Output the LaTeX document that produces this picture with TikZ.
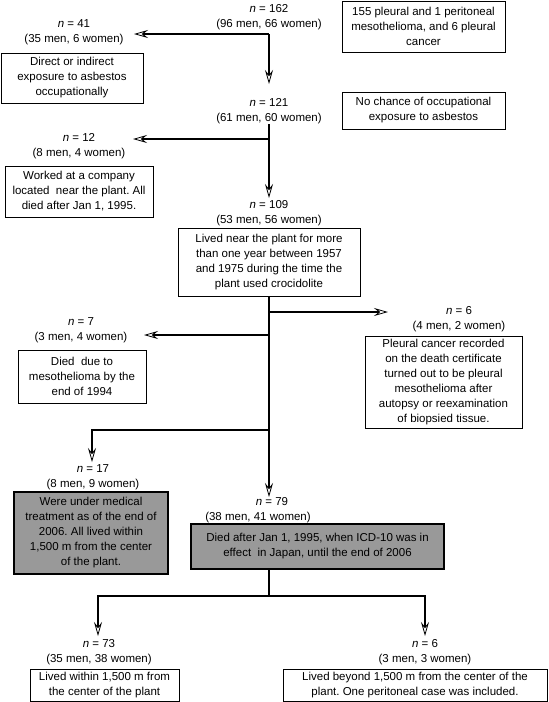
\documentclass[tikz,border=0pt]{standalone}
\usepackage{fontspec}
\setmainfont{Liberation Sans}
\usetikzlibrary{arrows.meta}
\definecolor{boxgray}{RGB}{153,153,153}
\frenchspacing
\begin{document}
\begin{tikzpicture}[x=1pt,y=-1pt,
  txt/.style={font=\fontsize{11.5}{15}\selectfont, align=center},
  lbl/.style={txt, inner sep=0pt},
  box/.style={txt, draw, line width=1pt, inner sep=0pt},
  gbox/.style={box, fill=boxgray, line width=2.2pt},
  ln/.style={line width=1.1pt},
  arr/.style={line width=1.1pt, -{Stealth[open, length=14pt, width=8pt, inset=5pt, line width=0.8pt]}}]
\useasboundingbox (0,0) rectangle (549,702);
% nodes
\node[lbl] (l162) at (269,17.5) {\textit{n} = 162\\(96 men, 66 women)};
\node[box, minimum width=163pt, minimum height=51pt] (A) at (423.5,26.5) {155 pleural and 1 peritoneal\\mesothelioma, and 6 pleural\\cancer};
\node[lbl] (l41) at (74,32) {\textit{n} = 41\\(35 men, 6 women)};
\node[box, minimum width=142pt, minimum height=50pt] (B) at (72,78) {Direct or indirect\\exposure to asbestos\\occupationally};
\node[lbl] (l121) at (269,111.5) {\textit{n} = 121\\(61 men, 60 women)};
\node[box, minimum width=163pt, minimum height=37pt] (C) at (423.5,110.5) {No chance of occupational\\exposure to asbestos};
\node[lbl] (l12) at (79,146.5) {\textit{n} = 12\\(8 men, 4 women)};
\node[box, minimum width=148pt, minimum height=51pt] (D) at (79,191.5) {Worked at a company\\located\ \ near the plant. All\\died after Jan 1, 1995.};
\node[lbl] (l109) at (269,213.5) {\textit{n} = 109\\(53 men, 56 women)};
\node[box, minimum width=182pt, minimum height=68pt] (E) at (269,262) {Lived near the plant for more\\than one year between 1957\\and 1975 during the time the\\plant used crocidolite};
\node[lbl] (l6) at (459,319.5) {\textit{n} = 6\\(4 men, 2 women)};
\node[box, minimum width=157pt, minimum height=92pt] (F) at (443.5,382) {Pleural cancer recorded\\on the death certificate\\turned out to be pleural\\mesothelioma after\\autopsy or reexamination\\of biopsied tissue.};
\node[lbl] (l7) at (81,330.5) {\textit{n} = 7\\(3 men, 4 women)};
\node[box, minimum width=128pt, minimum height=53pt] (G) at (82,376.5) {Died\ \ due to\\mesothelioma by the\\end of 1994};
\node[lbl] (l17) at (93,477.5) {\textit{n} = 17\\(8 men, 9 women)};
\node[gbox, minimum width=154pt, minimum height=82pt] (H) at (91,533) {Were under medical\\treatment as of the end of\\2006. All lived within\\1,500 m from the center\\of the plant.};
\node[lbl] (l79) at (258,510.5) {\hspace*{28pt}\textit{n} = 79\\(38 men, 41 women)};
\node[gbox, minimum width=253pt, minimum height=45pt] (I) at (317.5,546.5) {Died after Jan 1, 1995, when ICD-10 was in\\effect\ \ in Japan, until the end of 2006};
\node[lbl] (l73) at (99,652.5) {\textit{n} = 73\\(35 men, 38 women)};
\node[box, minimum width=149pt, minimum height=32pt] (J) at (104.5,685) {Lived within 1,500 m from\\the center of the plant};
\node[lbl] (l6b) at (425,652.5) {\textit{n} = 6\\(3 men, 3 women)};
\node[box, minimum width=264pt, minimum height=32pt] (K) at (415,685) {Lived beyond 1,500 m from the center of the\\plant. One peritoneal case was included.};
% coordinates
\coordinate (j1) at (269,34);
\coordinate (t121) at (269,84);
\coordinate (t41) at (134,34);
\coordinate (j2) at (269,139);
\coordinate (t12) at (133,139);
\coordinate (t109) at (269,198);
\coordinate (j3) at (269,312);
\coordinate (t6) at (388,312);
\coordinate (j4) at (269,335);
\coordinate (t7) at (144,335);
\coordinate (j5) at (269,430);
\coordinate (t17) at (92,462);
\coordinate (t79) at (269,497);
\coordinate (j6) at (269,596);
\coordinate (t73) at (98,636);
\coordinate (t6b) at (425,636);
% connectors
\draw[arr] (j1) -- (t121);
\draw[arr] (j1) -- (t41);
\draw[arr] (l121.south) -- (t109);
\draw[arr] (j2) -- (t12);
\draw[arr] (E.south) -- (t79);
\draw[arr] (j3) -- (t6);
\draw[arr] (j4) -- (t7);
\draw[arr] (j5) -| (t17);
\draw[ln] (I.south -| j6) -- (j6);
\draw[arr] (j6) -| (t73);
\draw[arr] (j6) -| (t6b);
\end{tikzpicture}
\end{document}
